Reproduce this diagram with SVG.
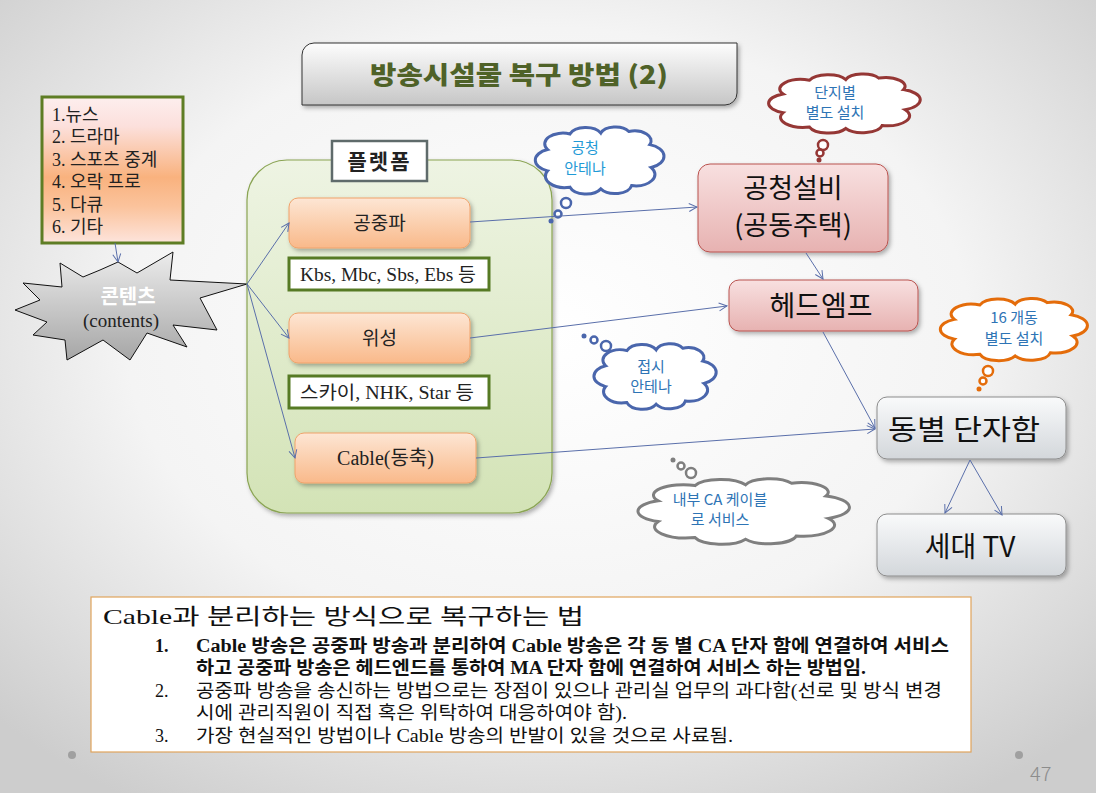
<svg xmlns="http://www.w3.org/2000/svg" xmlns:xlink="http://www.w3.org/1999/xlink" width="1096" height="793" viewBox="0 0 1096 793">
<defs>
<radialGradient id="bg" cx="50%" cy="42%" r="70%">
<stop offset="0" stop-color="#ffffff"/><stop offset="0.55" stop-color="#f4f4f4"/><stop offset="1" stop-color="#cdcdcd"/>
</radialGradient>
<linearGradient id="gTitle" x1="0" y1="0" x2="0" y2="1"><stop offset="0" stop-color="#fdfdfd"/><stop offset="1" stop-color="#c6c6c6"/></linearGradient>
<linearGradient id="gList" x1="0" y1="0" x2="0" y2="1"><stop offset="0" stop-color="#fdeeee"/><stop offset="0.2" stop-color="#fce0dc"/><stop offset="0.55" stop-color="#f9b27e"/><stop offset="0.75" stop-color="#fbc39c"/><stop offset="1" stop-color="#fde4dc"/></linearGradient>
<linearGradient id="gBoom" x1="0" y1="0" x2="0" y2="1"><stop offset="0" stop-color="#ececec"/><stop offset="1" stop-color="#a6a6a6"/></linearGradient>
<linearGradient id="gPlat" x1="0" y1="0" x2="0" y2="1"><stop offset="0" stop-color="#eef4e3"/><stop offset="1" stop-color="#d3e3b6"/></linearGradient>
<linearGradient id="gOr" x1="0" y1="0" x2="0" y2="1"><stop offset="0" stop-color="#fde6d4"/><stop offset="1" stop-color="#f9b98a"/></linearGradient>
<linearGradient id="gPk" x1="0" y1="0" x2="0" y2="1"><stop offset="0" stop-color="#f8e0e0"/><stop offset="1" stop-color="#e7b2b1"/></linearGradient>
<linearGradient id="gGy" x1="0" y1="0" x2="0" y2="1"><stop offset="0" stop-color="#f9fafb"/><stop offset="1" stop-color="#d3d7db"/></linearGradient>
<filter id="sh" x="-10%" y="-10%" width="125%" height="130%"><feDropShadow dx="2" dy="2.5" stdDeviation="2" flood-color="#000" flood-opacity="0.3"/></filter>
<marker id="arr" viewBox="0 0 10 10" refX="9" refY="5" markerWidth="10" markerHeight="10" markerUnits="userSpaceOnUse" orient="auto">
<path d="M1,1 L9,5 L1,9" fill="none" stroke="#5a6faa" stroke-width="1"/>
</marker>
<path id="cloud" vector-effect="non-scaling-stroke" d="M14,62 A14,14 0 0 1 14,36 A13,13 0 0 1 30,17 A12,12 0 0 1 52,16 A11,11 0 0 1 72,14 A12,12 0 0 1 87,30 A15,15 0 0 1 88,58 A14,14 0 0 1 74,80 A12,12 0 0 1 52,84 A12,12 0 0 1 30,82 A14,14 0 0 1 14,62 Z"/>
</defs>
<style>
.k{font-family:"Noto Sans CJK KR","Liberation Sans",sans-serif}
.s{font-family:"Liberation Serif","Noto Sans CJK KR",serif}
.conn{fill:none;stroke:#5a6faa;stroke-width:1}
.cl{fill:#fff;stroke-width:3}
.ct{font-family:"Noto Sans CJK KR",sans-serif;font-size:15px;text-anchor:middle}
.orb{fill:url(#gOr);stroke:#f0a26a;stroke-width:1}
.lab{fill:#fff;stroke:#567a24;stroke-width:3}
.big{font-family:"Noto Sans CJK KR",sans-serif;font-size:28px;text-anchor:middle;fill:#111}
.mid{text-anchor:middle;fill:#222}
</style>
<rect x="0" y="0" width="1096" height="793" fill="url(#bg)"/>

<g id="title">
<path d="M314,43 H737 V93 A12,12 0 0 1 725,105 H302 V55 A12,12 0 0 1 314,43 Z" fill="url(#gTitle)" stroke="#333" stroke-width="1" filter="url(#sh)"/>
<text x="370" y="84" class="k" font-size="25" font-weight="900" fill="#4f6228" textLength="298" lengthAdjust="spacingAndGlyphs">방송시설물 복구 방법 (2)</text>
</g>

<g id="content-list">
<rect x="42" y="97" width="141" height="146" fill="url(#gList)" stroke="#5e7d24" stroke-width="3"/>
<g class="s" font-size="18" fill="#222">
<text x="52" y="121">1.뉴스</text>
<text x="52" y="143">2. 드라마</text>
<text x="52" y="166">3. 스포츠 중계</text>
<text x="52" y="188">4. 오락 프로</text>
<text x="52" y="211">5. 다큐</text>
<text x="52" y="233">6. 기타</text>
</g>
</g>

<g id="contents">
<polygon points="118,262 137,273 173,252 170,280 247,284 200,298 217,330 173,325 187,347 147,333 130,360 103,340 67,360 65,340 33,335 47,322 15,310 40,300 23,283 62,287 60,263 83,277 100,270" fill="url(#gBoom)" stroke="#111" stroke-width="1"/>
<text x="128" y="304" class="k" font-size="20" font-weight="700" fill="#fff" text-anchor="middle">콘텐츠</text>
<text x="121" y="327" class="s" font-size="19" fill="#222" text-anchor="middle">(contents)</text>
</g>

<g id="platform">
<rect x="247" y="160" width="305" height="353" rx="40" fill="url(#gPlat)" stroke="#8aa453" stroke-width="1.2" filter="url(#sh)"/>
<rect x="332" y="141" width="95" height="40" fill="#fff" stroke="#5f6b6b" stroke-width="2.5"/>
<text x="379.5" y="169" class="k" font-size="21" font-weight="700" fill="#222" text-anchor="middle" letter-spacing="2">플렛폼</text>
</g>

<g id="n-air">
<rect x="289" y="198" width="181" height="50" rx="9" class="orb" filter="url(#sh)"/>
<text x="379.5" y="230" class="k mid" font-size="19">공중파</text>
</g>
<g id="l-air">
<rect x="289" y="258" width="200" height="32" class="lab"/>
<text x="300" y="281" class="s" font-size="18" fill="#222" textLength="176" lengthAdjust="spacingAndGlyphs">Kbs, Mbc, Sbs, Ebs 등</text>
</g>
<g id="n-sat">
<rect x="289" y="313" width="181" height="50" rx="9" class="orb" filter="url(#sh)"/>
<text x="379.5" y="345" class="k mid" font-size="19">위성</text>
</g>
<g id="l-sat">
<rect x="289" y="376" width="200" height="32" class="lab"/>
<text x="300" y="399" class="s" font-size="18" fill="#222" textLength="174" lengthAdjust="spacingAndGlyphs">스카이, NHK, Star 등</text>
</g>
<g id="n-cable">
<rect x="295" y="433" width="181" height="50" rx="9" class="orb" filter="url(#sh)"/>
<text x="385.5" y="465" class="s mid" font-size="20">Cable(동축)</text>
</g>

<g id="n-mast">
<rect x="698" y="164" width="190" height="88" rx="12" fill="url(#gPk)" stroke="#b9524e" stroke-width="1" filter="url(#sh)"/>
<text x="793" y="198" class="big" font-size="27" style="font-size:27px">공청설비</text>
<text x="793" y="235" class="big" font-size="27" style="font-size:27px">(공동주택)</text>
</g>
<g id="n-head">
<rect x="729" y="280" width="189" height="51" rx="10" fill="url(#gPk)" stroke="#b9524e" stroke-width="1" filter="url(#sh)"/>
<text x="821" y="316" class="big">헤드엠프</text>
</g>
<g id="n-dong">
<rect x="877" y="397" width="189" height="62" rx="10" fill="url(#gGy)" stroke="#8c8c8c" stroke-width="1" filter="url(#sh)"/>
<text x="888" y="440" class="big" style="text-anchor:start" textLength="152" lengthAdjust="spacingAndGlyphs">동별 단자함</text>
</g>
<g id="n-tv">
<rect x="877" y="514" width="189" height="62" rx="10" fill="url(#gGy)" stroke="#8c8c8c" stroke-width="1" filter="url(#sh)"/>
<text x="970" y="557" class="big">세대 TV</text>
</g>

<g id="cloud-air">
<use href="#cloud" transform="translate(528,120) scale(1.4,0.82)" class="cl" stroke="#4a66ac"/>
<circle cx="566" cy="203" r="5" fill="#fff" stroke="#4a66ac" stroke-width="2.5"/>
<circle cx="558" cy="214" r="3.5" fill="#fff" stroke="#4a66ac" stroke-width="2.5"/>
<circle cx="551" cy="221" r="2.5" fill="#4a66ac"/>
<text x="585" y="153" class="ct" fill="#1f9ad6">공청</text>
<text x="585" y="174" class="ct" fill="#1f9ad6">안테나</text>
</g>
<g id="cloud-danji">
<use href="#cloud" transform="translate(760,68) scale(1.65,0.72)" class="cl" stroke="#953735"/>
<circle cx="823" cy="145" r="5" fill="#fff" stroke="#953735" stroke-width="2.5"/>
<circle cx="820" cy="153" r="3.5" fill="#fff" stroke="#953735" stroke-width="2.5"/>
<circle cx="819" cy="160" r="2.5" fill="#953735"/>
<text x="835" y="98" class="ct" fill="#2e74b5">단지별</text>
<text x="835" y="118" class="ct" fill="#2e74b5">별도 설치</text>
</g>
<g id="cloud-16">
<use href="#cloud" transform="translate(932,292) scale(1.6,0.76)" class="cl" stroke="#e46c0a"/>
<circle cx="988" cy="371" r="5" fill="#fff" stroke="#e46c0a" stroke-width="2.5"/>
<circle cx="983" cy="381" r="3.5" fill="#fff" stroke="#e46c0a" stroke-width="2.5"/>
<circle cx="979" cy="389" r="2.5" fill="#e46c0a"/>
<text x="1014" y="323" class="ct" fill="#2e74b5">16 개동</text>
<text x="1014" y="344" class="ct" fill="#2e74b5">별도 설치</text>
</g>
<g id="cloud-dish">
<use href="#cloud" transform="translate(587,337) scale(1.33,0.8)" class="cl" stroke="#4a66ac"/>
<circle cx="606" cy="346" r="5" fill="#fff" stroke="#4a66ac" stroke-width="2.5"/>
<circle cx="594" cy="340" r="3.5" fill="#fff" stroke="#4a66ac" stroke-width="2.5"/>
<circle cx="584" cy="336" r="2.5" fill="#4a66ac"/>
<text x="651" y="372" class="ct" fill="#2e74b5">접시</text>
<text x="651" y="392" class="ct" fill="#2e74b5">안테나</text>
</g>
<g id="cloud-ca">
<use href="#cloud" transform="translate(626,472) scale(2.3,0.8)" class="cl" stroke="#7f7f7f"/>
<circle cx="691" cy="473" r="5" fill="#fff" stroke="#7f7f7f" stroke-width="2.5"/>
<circle cx="681" cy="466" r="3.5" fill="#fff" stroke="#7f7f7f" stroke-width="2.5"/>
<circle cx="673" cy="460" r="2.5" fill="#7f7f7f"/>
<text x="720" y="505" class="ct" fill="#2e74b5">내부 CA 케이블</text>
<text x="720" y="525" class="ct" fill="#2e74b5">로 서비스</text>
</g>

<g id="connectors">
<line x1="115" y1="243" x2="118" y2="262" class="conn" marker-end="url(#arr)"/>
<line x1="247" y1="284" x2="289" y2="223" class="conn" marker-end="url(#arr)"/>
<line x1="247" y1="284" x2="289" y2="338" class="conn" marker-end="url(#arr)"/>
<line x1="247" y1="284" x2="295" y2="458" class="conn" marker-end="url(#arr)"/>
<line x1="470" y1="222" x2="697" y2="207" class="conn" marker-end="url(#arr)"/>
<line x1="470" y1="338" x2="727" y2="306" class="conn" marker-end="url(#arr)"/>
<line x1="476" y1="458" x2="875" y2="429" class="conn" marker-end="url(#arr)"/>
<line x1="806" y1="253" x2="823" y2="279" class="conn" marker-end="url(#arr)"/>
<line x1="823" y1="332" x2="875" y2="428" class="conn" marker-end="url(#arr)"/>
<line x1="970" y1="460" x2="945" y2="513" class="conn" marker-end="url(#arr)"/>
<line x1="970" y1="460" x2="1002" y2="515" class="conn" marker-end="url(#arr)"/>
</g>

<g id="notes">
<rect x="91" y="597" width="880" height="155" fill="#fff" stroke="#e0a45c" stroke-width="1.2"/>
<text x="103" y="624" class="s" font-size="22" fill="#111" textLength="481" lengthAdjust="spacingAndGlyphs">Cable과 분리하는 방식으로 복구하는 법</text>
<g class="s" font-size="18" fill="#111">
<text x="155" y="652" font-weight="700">1.</text>
<text x="196" y="652" font-weight="700" textLength="753" lengthAdjust="spacingAndGlyphs">Cable 방송은 공중파 방송과 분리하여 Cable 방송은 각 동 별 CA 단자 함에 연결하여 서비스</text>
<text x="196" y="674" font-weight="700" textLength="670" lengthAdjust="spacingAndGlyphs">하고 공중파 방송은 헤드엔드를 통하여 MA 단자 함에 연결하여 서비스 하는 방법임.</text>
<text x="155" y="697">2.</text>
<text x="196" y="697" textLength="746" lengthAdjust="spacingAndGlyphs">공중파 방송을 송신하는 방법으로는 장점이 있으나 관리실 업무의 과다함(선로 및 방식 변경</text>
<text x="196" y="719" textLength="431" lengthAdjust="spacingAndGlyphs">시에 관리직원이 직접 혹은 위탁하여 대응하여야 함).</text>
<text x="155" y="742">3.</text>
<text x="196" y="742" textLength="537" lengthAdjust="spacingAndGlyphs">가장 현실적인 방법이나 Cable 방송의 반발이 있을 것으로 사료됨.</text>
</g>
</g>

<g id="footer">
<circle cx="72" cy="755" r="4" fill="#a0a0a0"/>
<circle cx="1019" cy="755" r="4" fill="#a0a0a0"/>
<text x="1030" y="781" font-family="Noto Sans CJK KR,sans-serif" font-weight="300" font-size="20" fill="#8c8c8c">47</text>
</g>
</svg>
